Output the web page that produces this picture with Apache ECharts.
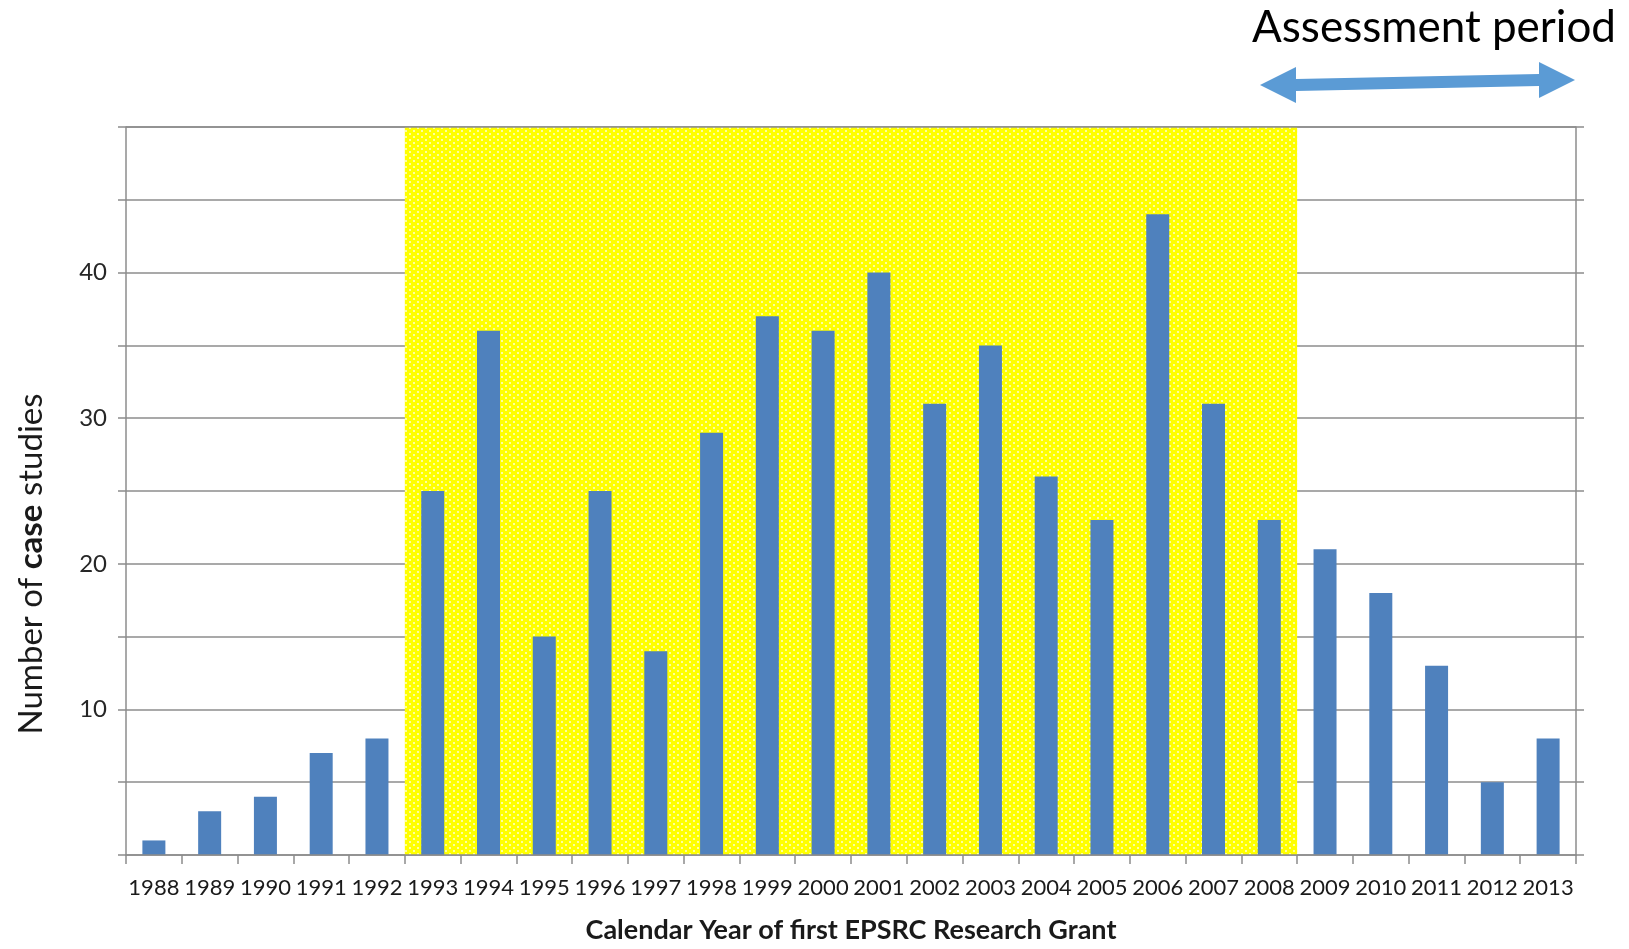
<!DOCTYPE html>
<html>
<head>
<meta charset="utf-8">
<title>Case studies by year of first EPSRC grant</title>
<script src="https://cdn.jsdelivr.net/npm/echarts@6/dist/echarts.min.js"></script>
<style>
  html, body { margin: 0; padding: 0; background: #ffffff; }
  #chart { width: 1629px; height: 949px; }
</style>
</head>
<body>
<div id="chart"></div>
<script>
// Calendar year of the first EPSRC research grant
const years = ['1988','1989','1990','1991','1992','1993','1994','1995','1996','1997','1998','1999','2000',
  '2001','2002','2003','2004','2005','2006','2007','2008','2009','2010','2011','2012','2013'];

// Number of case studies for each year
const caseStudies = [1, 3, 4, 7, 8, 25, 36, 15, 25, 14, 29, 37, 36,
  40, 31, 35, 26, 23, 44, 31, 23, 21, 18, 13, 5, 8];

// Highlighted span of years (shaded band)
const bandStart = '1993';
const bandEnd = '2008';

// Value-axis range and labelled ticks
const yMin = 0;
const yMax = 50;
const yStep = 5;
const yLabelled = [10, 20, 30, 40];

const FONT = 'Lato, "Open Sans", "Liberation Sans", sans-serif';
const GRID_GREY = '#8c8c8c';

// Dotted yellow fill used for the shaded band
function dottedYellow() {
  const c = document.createElement('canvas');
  c.width = 8; c.height = 6;
  const g = c.getContext('2d');
  g.fillStyle = '#ffff00';
  g.fillRect(0, 0, 8, 6);
  g.fillStyle = '#ffffa0';
  g.fillRect(1, 1, 2, 2);
  g.fillRect(5, 4, 2, 2);
  return c;
}

const chart = echarts.init(document.getElementById('chart'), null, { renderer: 'canvas' });

chart.setOption({
  animation: false,
  backgroundColor: '#ffffff',
  grid: { left: 126, right: 53, top: 127, bottom: 89, containLabel: false },
  xAxis: {
    type: 'category',
    data: years,
    z: 5,
    boundaryGap: true,
    axisLine: { show: true, lineStyle: { color: GRID_GREY, width: 1.5 } },
    axisTick: { show: true, interval: 0, length: 9, alignWithLabel: false,
      lineStyle: { color: GRID_GREY, width: 1.5 } },
    axisLabel: { interval: 0, margin: 22, color: '#1a1a1a', fontFamily: FONT, fontSize: 22 },
    splitLine: { show: false },
    name: 'Calendar Year of first EPSRC Research Grant',
    nameLocation: 'middle',
    nameGap: 62,
    nameTextStyle: { color: '#1a1a1a', fontFamily: FONT, fontSize: 27, fontWeight: 'bold' }
  },
  yAxis: [
    {
      type: 'value',
      min: yMin, max: yMax, interval: yStep,
      position: 'left',
      axisLine: { show: true, lineStyle: { color: GRID_GREY, width: 1.5 } },
      axisTick: { show: true, inside: false, length: 8, lineStyle: { color: GRID_GREY, width: 1.5 } },
      axisLabel: {
        margin: 19, color: '#262626', fontFamily: FONT, fontSize: 24,
        formatter: v => (yLabelled.indexOf(v) >= 0 ? String(v) : '')
      },
      splitLine: { show: true, lineStyle: { color: GRID_GREY, width: 1.5 } }
    },
    {
      type: 'value',
      min: yMin, max: yMax, interval: yStep,
      position: 'right',
      axisLine: { show: true, lineStyle: { color: GRID_GREY, width: 1.5 } },
      axisTick: { show: true, inside: false, length: 8, lineStyle: { color: GRID_GREY, width: 1.5 } },
      axisLabel: { show: false },
      splitLine: { show: false }
    }
  ],
  series: [{
    type: 'bar',
    data: caseStudies,
    barWidth: 23,
    itemStyle: { color: '#4f81bd' },
    markArea: {
      silent: true,
      label: { show: false },
      itemStyle: { color: { image: dottedYellow(), repeat: 'repeat' }, opacity: 1 },
      data: [[{ xAxis: bandStart, yAxis: yMin }, { xAxis: bandEnd, yAxis: yMax }]]
    },
    markLine: {
      silent: true,
      symbol: 'none',
      label: { show: false },
      lineStyle: { color: GRID_GREY, width: 1.5, type: 'solid' },
      data: [{ yAxis: yMax }]
    }
  }],
  graphic: [
    {
      type: 'text',
      x: 31, y: 564,
      rotation: Math.PI / 2,
      style: {
        text: '{n|Number of }{b|case}{n| studies}',
        align: 'center', verticalAlign: 'middle',
        rich: {
          n: { fontFamily: FONT, fontSize: 33, fill: '#1a1a1a' },
          b: { fontFamily: FONT, fontSize: 33, fontWeight: 'bold', fill: '#1a1a1a' }
        }
      }
    },
    {
      type: 'text',
      x: 1434, y: 28,
      style: {
        text: 'Assessment period',
        fontFamily: FONT, fontSize: 44, fill: '#000000',
        align: 'center', verticalAlign: 'middle'
      }
    },
    {
      // double-headed arrow marking the assessment period
      type: 'polygon',
      shape: {
        points: [
          [1260, 85], [1296, 67], [1296, 79], [1539, 74], [1539, 62], [1575, 80],
          [1539, 98], [1539, 86], [1296, 91], [1296, 103]
        ]
      },
      style: { fill: '#5b9bd5' }
    }
  ]
});
</script>
</body>
</html>
